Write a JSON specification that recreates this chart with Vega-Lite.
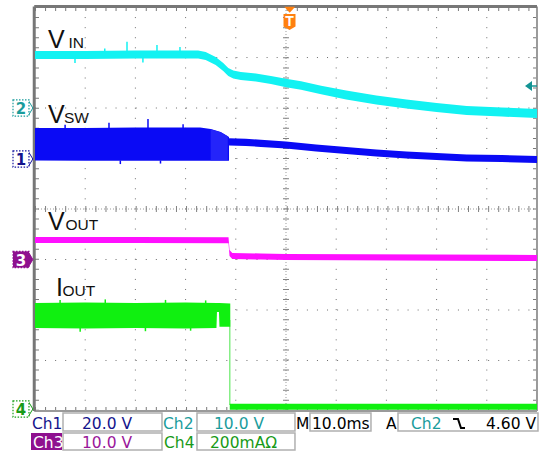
{
  "$schema": "https://vega.github.io/schema/vega-lite/v6.json",
  "width": 539,
  "height": 452,
  "padding": 0,
  "autosize": {"type": "none"},
  "background": "white",
  "config": {"view": {"stroke": null}},
  "datasets": {
    "frameThick": [
      {"x": -50.15, "x2": -50.15, "y": 4.01, "y2": -4.0},
      {"x": -50.15, "x2": 50.0, "y": 4.01, "y2": 4.01}
    ],
    "frameThin": [
      {"x": 50.0, "x2": 50.0, "y": 4.01, "y2": -4.0},
      {"x": -50.15, "x2": 50.0, "y": -4.0, "y2": -4.0}
    ],
    "grid": [
      {"x": -40, "x2": -40, "y": 4, "y2": -4},
      {"x": -30, "x2": -30, "y": 4, "y2": -4},
      {"x": -20, "x2": -20, "y": 4, "y2": -4},
      {"x": -10, "x2": -10, "y": 4, "y2": -4},
      {"x": 10, "x2": 10, "y": 4, "y2": -4},
      {"x": 20, "x2": 20, "y": 4, "y2": -4},
      {"x": 30, "x2": 30, "y": 4, "y2": -4},
      {"x": 40, "x2": 40, "y": 4, "y2": -4},
      {"x": -50, "x2": 50, "y": 3, "y2": 3},
      {"x": -50, "x2": 50, "y": 2, "y2": 2},
      {"x": -50, "x2": 50, "y": 1, "y2": 1},
      {"x": -50, "x2": 50, "y": -1, "y2": -1},
      {"x": -50, "x2": 50, "y": -2, "y2": -2},
      {"x": -50, "x2": 50, "y": -3, "y2": -3}
    ],
    "center": [
      {"x": 0, "x2": 0, "y": 4, "y2": -4},
      {"x": -50, "x2": 50, "y": 0, "y2": 0}
    ],
    "edgeTicks": [
      {"x": -49.6, "x2": -49.6, "y": 4, "y2": -4},
      {"x": 49.6, "x2": 49.6, "y": 4, "y2": -4},
      {"x": -50, "x2": 50, "y": 3.96, "y2": 3.96},
      {"x": -50, "x2": 50, "y": -3.96, "y2": -3.96}
    ],
    "vin": [
      {"x": -50, "y": 3.13, "y2": 2.97},
      {"x": -40, "y": 3.13, "y2": 2.97},
      {"x": -30, "y": 3.139, "y2": 2.979},
      {"x": -20, "y": 3.139, "y2": 2.979},
      {"x": -17.5, "y": 3.139, "y2": 2.979},
      {"x": -16, "y": 3.11, "y2": 2.95},
      {"x": -14, "y": 3.011, "y2": 2.851},
      {"x": -12.5, "y": 2.892, "y2": 2.732},
      {"x": -11.5, "y": 2.793, "y2": 2.633},
      {"x": -10.5, "y": 2.743, "y2": 2.583},
      {"x": -9, "y": 2.714, "y2": 2.554},
      {"x": -6, "y": 2.684, "y2": 2.524},
      {"x": -3, "y": 2.634, "y2": 2.474},
      {"x": 0, "y": 2.58, "y2": 2.41},
      {"x": 3, "y": 2.531, "y2": 2.361},
      {"x": 7, "y": 2.441, "y2": 2.271},
      {"x": 12, "y": 2.347, "y2": 2.167},
      {"x": 18, "y": 2.248, "y2": 2.068},
      {"x": 24, "y": 2.169, "y2": 1.989},
      {"x": 30, "y": 2.1, "y2": 1.92},
      {"x": 36, "y": 2.04, "y2": 1.86},
      {"x": 43, "y": 2.011, "y2": 1.831},
      {"x": 50, "y": 1.981, "y2": 1.801}
    ],
    "vinSpikes": [
      {"x": -31.67, "y": 3.31, "y2": 3.1},
      {"x": -25.7, "y": 3.25, "y2": 3.1},
      {"x": -21.12, "y": 3.21, "y2": 3.1},
      {"x": -36.1, "y": 3.18, "y2": 3.1},
      {"x": -42.03, "y": 3.0, "y2": 2.89},
      {"x": -28.5, "y": 3.0, "y2": 2.9}
    ],
    "vswBand": [
      {"x": -50, "y": 1.604, "y2": 0.96},
      {"x": -40, "y": 1.604, "y2": 0.955},
      {"x": -30, "y": 1.614, "y2": 0.958},
      {"x": -20, "y": 1.614, "y2": 0.955},
      {"x": -17.1, "y": 1.614, "y2": 0.955},
      {"x": -15, "y": 1.584, "y2": 0.955},
      {"x": -13, "y": 1.525, "y2": 0.955},
      {"x": -11.35, "y": 1.426, "y2": 0.955}
    ],
    "vswLight": [
      {"x": -15.0, "y": 1.58, "y2": 0.965},
      {"x": -13, "y": 1.52, "y2": 0.965},
      {"x": -11.6, "y": 1.44, "y2": 0.965}
    ],
    "vswSpikes": [
      {"x": -27.49, "y": 1.78, "y2": 1.6},
      {"x": -35.26, "y": 1.71, "y2": 1.6},
      {"x": -20.5, "y": 1.68, "y2": 1.6},
      {"x": -44.0, "y": 1.67, "y2": 1.6},
      {"x": -33.0, "y": 0.96, "y2": 0.89},
      {"x": -25.0, "y": 0.96, "y2": 0.9}
    ],
    "vswTail": [
      {"x": -11.35, "y": 1.4, "y2": 1.26},
      {"x": -8, "y": 1.39, "y2": 1.25},
      {"x": -5, "y": 1.37, "y2": 1.23},
      {"x": 0, "y": 1.337, "y2": 1.197},
      {"x": 6, "y": 1.278, "y2": 1.138},
      {"x": 12, "y": 1.228, "y2": 1.088},
      {"x": 18, "y": 1.179, "y2": 1.039},
      {"x": 24, "y": 1.139, "y2": 0.999},
      {"x": 30, "y": 1.11, "y2": 0.97},
      {"x": 36, "y": 1.08, "y2": 0.94},
      {"x": 43, "y": 1.07, "y2": 0.93},
      {"x": 50, "y": 1.05, "y2": 0.91}
    ],
    "vout": [
      {"x": -50, "y": -0.554, "y2": -0.674},
      {"x": -30, "y": -0.554, "y2": -0.674},
      {"x": -11.45, "y": -0.56, "y2": -0.68},
      {"x": -11.25, "y": -0.81, "y2": -0.93},
      {"x": -10.7, "y": -0.87, "y2": -0.99},
      {"x": -5, "y": -0.881, "y2": -1.001},
      {"x": 0, "y": -0.89, "y2": -1.01},
      {"x": 50, "y": -0.91, "y2": -1.03}
    ],
    "ioutBand": [
      {"x": -50, "y": -1.861, "y2": -2.356},
      {"x": -40, "y": -1.851, "y2": -2.366},
      {"x": -30, "y": -1.861, "y2": -2.356},
      {"x": -20, "y": -1.851, "y2": -2.366},
      {"x": -13.85, "y": -1.861, "y2": -2.356},
      {"x": -13.75, "y": -1.861, "y2": -2.04},
      {"x": -13.35, "y": -1.861, "y2": -2.04},
      {"x": -13.25, "y": -1.861, "y2": -2.33},
      {"x": -11.1, "y": -1.871, "y2": -2.33}
    ],
    "ioutSpikes": [
      {"x": -45, "y": -1.8, "y2": -1.87},
      {"x": -36, "y": -1.79, "y2": -1.87},
      {"x": -24, "y": -1.8, "y2": -1.87},
      {"x": -16, "y": -1.81, "y2": -1.87},
      {"x": -41, "y": -2.35, "y2": -2.43},
      {"x": -28, "y": -2.35, "y2": -2.42},
      {"x": -19, "y": -2.35, "y2": -2.41}
    ],
    "ioutDrop": [{"x": -11.2, "y": -2.2, "y2": -3.88}],
    "ioutLow": [
      {"x": -11.2, "y": -3.855, "y2": -3.975},
      {"x": 50, "y": -3.855, "y2": -3.975}
    ],
    "bigLabels": [
      {"x": -47.41, "y": 3.198, "text": "V"},
      {"x": -47.41, "y": 1.703, "text": "V"},
      {"x": -47.41, "y": -0.416, "text": "V"},
      {"x": -45.82, "y": -1.723, "text": "I"}
    ],
    "subLabels": [
      {"x": -43.33, "y": 3.198, "text": "IN"},
      {"x": -44.22, "y": 1.703, "text": "SW"},
      {"x": -43.92, "y": -0.416, "text": "OUT"},
      {"x": -44.52, "y": -1.723, "text": "OUT"}
    ],
    "chBoxes": [
      {"x": -54.38, "x2": -51.2, "y": 2.16, "y2": 1.84, "ch": "c2"},
      {"x": -54.38, "x2": -51.2, "y": 1.15, "y2": 0.83, "ch": "c1"},
      {"x": -54.38, "x2": -51.2, "y": -0.84, "y2": -1.16, "ch": "c3"},
      {"x": -54.38, "x2": -51.2, "y": -3.8, "y2": -4.12, "ch": "c4"}
    ],
    "chTips": [
      {"x": -50.9, "y": 2.0, "ch": "c2"},
      {"x": -50.9, "y": 0.99, "ch": "c1"},
      {"x": -50.9, "y": -1.0, "ch": "c3"},
      {"x": -50.9, "y": -3.96, "ch": "c4"}
    ],
    "chMarkers": [
      {"x": -52.79, "y": 2.0, "tc": "c2", "label": "2"},
      {"x": -52.79, "y": 0.99, "tc": "c1", "label": "1"},
      {"x": -52.79, "y": -1.0, "tc": "w", "label": "3"},
      {"x": -52.79, "y": -3.96, "tc": "c4", "label": "4"}
    ],
    "trigTri": [{"x": 0.74, "y": 3.947}],
    "trigShield": [{"x": 0.7, "y": 3.703, "label": "T"}],
    "levelArrow": [{"x": 48.31, "y": 2.436}],
    "levelLine": [{"x": 49.0, "x2": 50.0, "y": 2.436, "y2": 2.436}],
    "boxes": [
      {"x": -44.42, "x2": -24.7, "y": -4.04, "y2": -4.396},
      {"x": -17.73, "x2": 1.79, "y": -4.04, "y2": -4.396},
      {"x": 4.78, "x2": 16.93, "y": -4.04, "y2": -4.396},
      {"x": 22.31, "x2": 50.2, "y": -4.04, "y2": -4.396},
      {"x": -44.42, "x2": -24.7, "y": -4.436, "y2": -4.772},
      {"x": -17.73, "x2": 1.79, "y": -4.436, "y2": -4.772}
    ],
    "ch3Box": [{"x": -50.8, "x2": -44.62, "y": -4.436, "y2": -4.772}],
    "bottomText": [
      {"x": -50.6, "y": -4.356, "text": "Ch1", "tc": "c1"},
      {"x": -40.64, "y": -4.356, "text": "20.0 V", "tc": "c1"},
      {"x": -24.5, "y": -4.356, "text": "Ch2", "tc": "c2"},
      {"x": -14.34, "y": -4.356, "text": "10.0 V", "tc": "c2"},
      {"x": 2.0, "y": -4.356, "text": "M", "tc": "k"},
      {"x": 5.18, "y": -4.356, "text": "10.0ms", "tc": "k"},
      {"x": 19.92, "y": -4.356, "text": "A", "tc": "k"},
      {"x": 24.9, "y": -4.356, "text": "Ch2", "tc": "c2"},
      {"x": 39.84, "y": -4.356, "text": "4.60 V", "tc": "k"},
      {"x": -50.4, "y": -4.733, "text": "Ch3", "tc": "w"},
      {"x": -40.64, "y": -4.733, "text": "10.0 V", "tc": "c3"},
      {"x": -24.3, "y": -4.733, "text": "Ch4", "tc": "c4"},
      {"x": -15.14, "y": -4.733, "text": "200mAΩ", "tc": "c4"}
    ],
    "edgeSym": [
      {"x": 33.27, "y": -4.158},
      {"x": 34.26, "y": -4.158},
      {"x": 34.86, "y": -4.337},
      {"x": 35.66, "y": -4.337}
    ]
  },
  "encoding": {
    "x": {"field": "x", "type": "quantitative", "scale": {"domain": [-56.97, 50.4], "nice": false, "zero": false}, "axis": null},
    "y": {"field": "y", "type": "quantitative", "scale": {"domain": [-4.812, 4.139], "nice": false, "zero": false}, "axis": null}
  },
  "layer": [
    {"data": {"name": "grid"}, "mark": {"type": "rule", "color": "#6e6e6e", "strokeWidth": 1, "strokeDash": [1, 9.07]}, "encoding": {"x2": {"field": "x2"}, "y2": {"field": "y2"}}},
    {"data": {"name": "center"}, "mark": {"type": "rule", "color": "#9a9a9a", "strokeWidth": 1, "strokeDash": [1, 2]}, "encoding": {"x2": {"field": "x2"}, "y2": {"field": "y2"}}},
    {"data": {"name": "center"}, "mark": {"type": "rule", "color": "#808080", "strokeWidth": 6, "strokeDash": [1, 9.07]}, "encoding": {"x2": {"field": "x2"}, "y2": {"field": "y2"}}},
    {"data": {"name": "edgeTicks"}, "mark": {"type": "rule", "color": "#7a7a7a", "strokeWidth": 4, "strokeDash": [1, 9.07]}, "encoding": {"x2": {"field": "x2"}, "y2": {"field": "y2"}}},
    {"data": {"name": "frameThin"}, "mark": {"type": "rule", "color": "#9a9a9a", "strokeWidth": 2}, "encoding": {"x2": {"field": "x2"}, "y2": {"field": "y2"}}},
    {"data": {"name": "frameThick"}, "mark": {"type": "rule", "color": "#777777", "strokeWidth": 3}, "encoding": {"x2": {"field": "x2"}, "y2": {"field": "y2"}}},
    {"data": {"name": "vin"}, "mark": {"type": "area", "color": "#12f2f2"}, "encoding": {"y2": {"field": "y2"}}},
    {"data": {"name": "vinSpikes"}, "mark": {"type": "rule", "color": "#12f2f2", "strokeWidth": 1.5}, "encoding": {"y2": {"field": "y2"}}},
    {"data": {"name": "vswBand"}, "mark": {"type": "area", "color": "#0a0af5"}, "encoding": {"y2": {"field": "y2"}}},
    {"data": {"name": "vswLight"}, "mark": {"type": "area", "color": "#2424fa"}, "encoding": {"y2": {"field": "y2"}}},
    {"data": {"name": "vswSpikes"}, "mark": {"type": "rule", "color": "#0a0af5", "strokeWidth": 1.5}, "encoding": {"y2": {"field": "y2"}}},
    {"data": {"name": "vswTail"}, "mark": {"type": "area", "color": "#0a0af5"}, "encoding": {"y2": {"field": "y2"}}},
    {"data": {"name": "vout"}, "mark": {"type": "area", "color": "#ff10ff"}, "encoding": {"y2": {"field": "y2"}}},
    {"data": {"name": "ioutDrop"}, "mark": {"type": "rule", "color": "#86ee86", "strokeWidth": 1.5}, "encoding": {"y2": {"field": "y2"}}},
    {"data": {"name": "ioutBand"}, "mark": {"type": "area", "color": "#10f010"}, "encoding": {"y2": {"field": "y2"}}},
    {"data": {"name": "ioutSpikes"}, "mark": {"type": "rule", "color": "#10f010", "strokeWidth": 1.5}, "encoding": {"y2": {"field": "y2"}}},
    {"data": {"name": "ioutLow"}, "mark": {"type": "area", "color": "#10f010"}, "encoding": {"y2": {"field": "y2"}}},
    {"data": {"name": "bigLabels"}, "mark": {"type": "text", "font": "Liberation Sans", "fontSize": 25, "align": "left", "baseline": "alphabetic", "color": "#111111"}, "encoding": {"text": {"field": "text"}}},
    {"data": {"name": "subLabels"}, "mark": {"type": "text", "font": "Liberation Sans", "fontSize": 15.5, "align": "left", "baseline": "alphabetic", "color": "#111111"}, "encoding": {"text": {"field": "text"}}},
    {"data": {"name": "chTips"}, "mark": {"type": "point", "shape": "M-0.3,-1L0.3,0L-0.3,1Z", "size": 256, "filled": true, "opacity": 1, "strokeWidth": 1},
     "encoding": {
       "fill": {"field": "ch", "type": "nominal", "scale": {"domain": ["c1", "c2", "c3", "c4"], "range": ["#ffffff", "#ffffff", "#8f108f", "#ffffff"]}, "legend": null},
       "stroke": {"field": "ch", "type": "nominal", "scale": {"domain": ["c1", "c2", "c3", "c4"], "range": ["#1414a0", "#1a9c9c", "#8f108f", "#18a018"]}, "legend": null}
     }},
    {"data": {"name": "chBoxes"}, "mark": {"type": "rect", "strokeWidth": 1.2, "strokeDash": [1.5, 1.5]},
     "encoding": {
       "x2": {"field": "x2"}, "y2": {"field": "y2"},
       "fill": {"field": "ch", "type": "nominal", "scale": {"domain": ["c1", "c2", "c3", "c4"], "range": ["#ffffff", "#ffffff", "#8f108f", "#ffffff"]}, "legend": null},
       "stroke": {"field": "ch", "type": "nominal", "scale": {"domain": ["c1", "c2", "c3", "c4"], "range": ["#1414a0", "#1a9c9c", "#8f108f", "#18a018"]}, "legend": null}
     }},
    {"data": {"name": "chMarkers"}, "mark": {"type": "text", "font": "DejaVu Sans", "fontSize": 15, "fontWeight": "bold", "align": "center", "baseline": "middle", "dy": 1},
     "encoding": {
       "text": {"field": "label"},
       "color": {"field": "tc", "type": "nominal", "scale": {"domain": ["c1", "c2", "c3", "c4", "k", "w"], "range": ["#14148c", "#1a9c9c", "#9a169a", "#189a18", "#000000", "#ffffff"]}, "legend": null}
     }},
    {"data": {"name": "trigTri"}, "mark": {"type": "point", "shape": "M-1,-0.55L1,-0.55L0,0.55Z", "size": 121, "filled": true, "color": "#ff8010", "opacity": 1}},
    {"data": {"name": "trigShield"}, "mark": {"type": "point", "shape": "M-0.75,-1L0.75,-1L0.75,0.55L0,1L-0.75,0.55Z", "size": 256, "filled": true, "color": "#ff8010", "opacity": 1}},
    {"data": {"name": "trigShield"}, "mark": {"type": "text", "font": "Liberation Sans", "fontSize": 14, "fontWeight": "bold", "color": "white", "align": "center", "baseline": "middle", "dy": 0}, "encoding": {"text": {"field": "label"}}},
    {"data": {"name": "levelArrow"}, "mark": {"type": "point", "shape": "M-0.7,0L0.7,-1L0.7,1Z", "size": 100, "filled": true, "color": "#139494", "opacity": 1}},
    {"data": {"name": "levelLine"}, "mark": {"type": "rule", "color": "#139494", "strokeWidth": 1.5}, "encoding": {"x2": {"field": "x2"}, "y2": {"field": "y2"}}},
    {"data": {"name": "boxes"}, "mark": {"type": "rect", "fill": "white", "stroke": "#b0b0b0", "strokeWidth": 1.5}, "encoding": {"x2": {"field": "x2"}, "y2": {"field": "y2"}}},
    {"data": {"name": "ch3Box"}, "mark": {"type": "rect", "color": "#8f108f"}, "encoding": {"x2": {"field": "x2"}, "y2": {"field": "y2"}}},
    {"data": {"name": "bottomText"}, "mark": {"type": "text", "font": "DejaVu Sans", "fontSize": 15.5, "align": "left", "baseline": "alphabetic"},
     "encoding": {
       "text": {"field": "text"},
       "color": {"field": "tc", "type": "nominal", "scale": {"domain": ["c1", "c2", "c3", "c4", "k", "w"], "range": ["#14148c", "#1a9c9c", "#9a169a", "#189a18", "#000000", "#ffffff"]}, "legend": null}
     }},
    {"data": {"name": "edgeSym"}, "mark": {"type": "line", "color": "black", "strokeWidth": 2}, "encoding": {}}
  ]
}
